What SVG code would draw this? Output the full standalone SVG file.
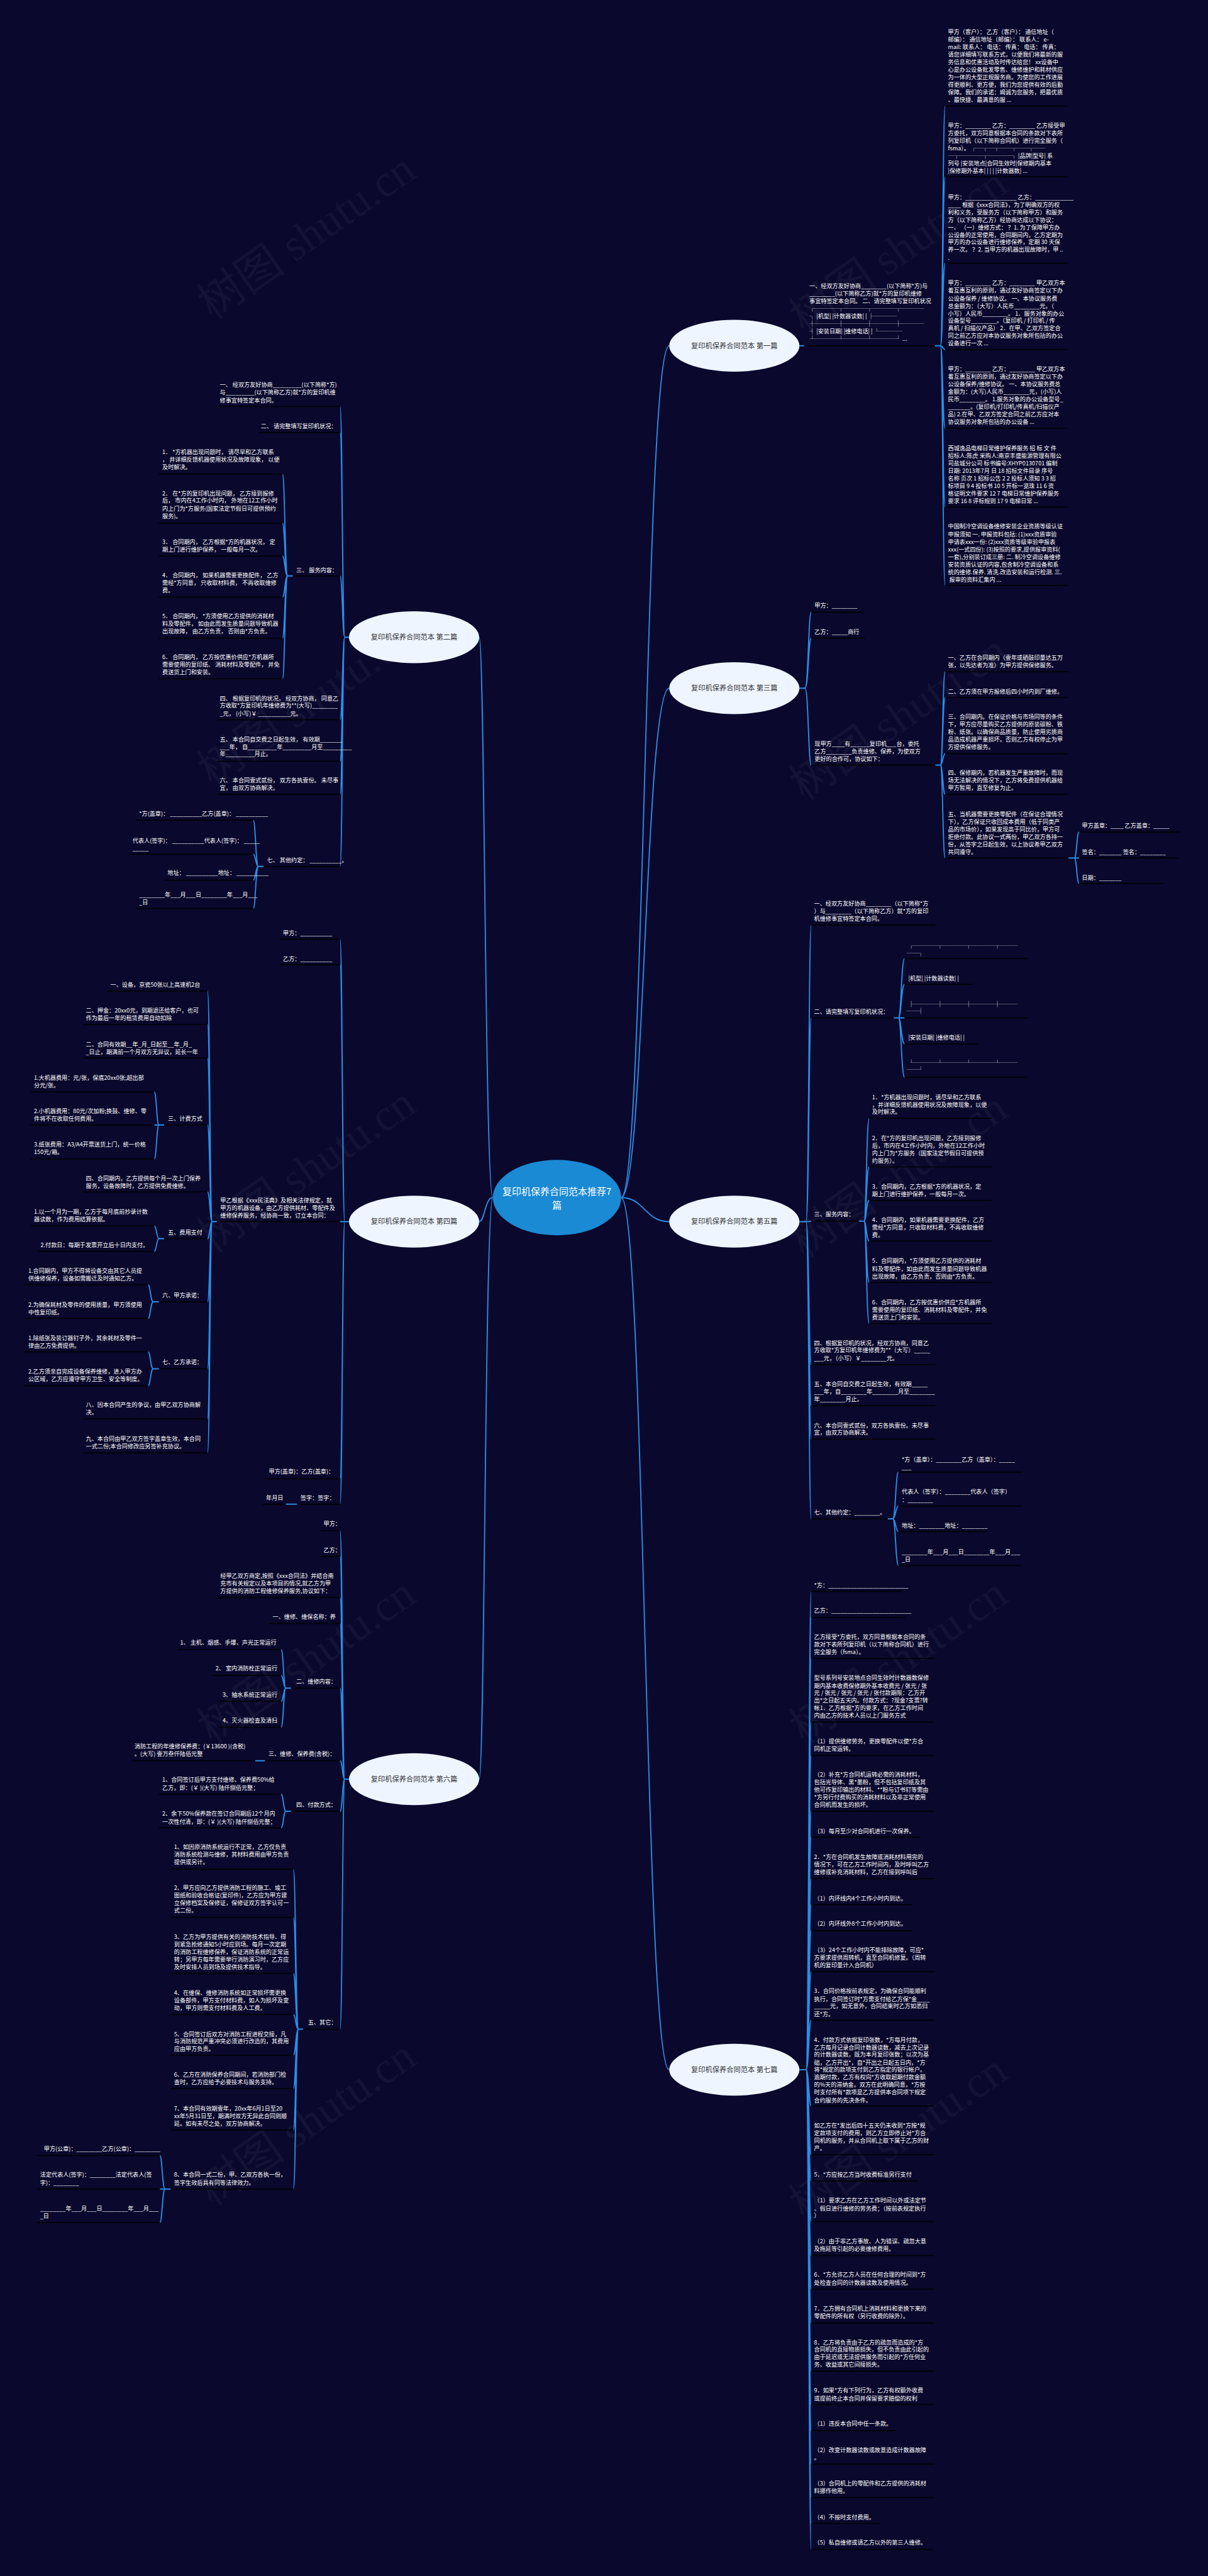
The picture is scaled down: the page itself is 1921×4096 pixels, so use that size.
<svg xmlns="http://www.w3.org/2000/svg" width="1921" height="4096" viewBox="0 0 1921 4096">
<style>
.t{font-family:"Noto Sans CJK SC","Noto Sans",sans-serif;font-size:12.2px;fill:#fff}
.nd{font-family:"Noto Sans CJK SC","Noto Sans",sans-serif;font-size:15px;fill:#333;text-anchor:middle}
.ct{font-family:"Noto Sans CJK SC","Noto Sans",sans-serif;font-size:20px;fill:#fff;text-anchor:middle}
.u{stroke:#000;stroke-width:2}
.c{fill:none;stroke:#2a8ee6;stroke-width:2.5}
.b{fill:#eef5ff}
.wm{font-family:"Liberation Serif","Noto Sans CJK SC",serif;font-size:95px;fill:#fff;fill-opacity:0.045;text-anchor:middle}
</style>
<rect width="1921" height="4096" fill="#0a082c"/>
<g transform="scale(0.75)">
<g id="watermark">
<text class="wm" transform="translate(650 500) rotate(-35)" y="32">树图 shutu.cn</text>
<text class="wm" transform="translate(650 1490) rotate(-35)" y="32">树图 shutu.cn</text>
<text class="wm" transform="translate(650 2480) rotate(-35)" y="32">树图 shutu.cn</text>
<text class="wm" transform="translate(650 3520) rotate(-35)" y="32">树图 shutu.cn</text>
<text class="wm" transform="translate(650 4500) rotate(-35)" y="32">树图 shutu.cn</text>
<text class="wm" transform="translate(1905 530) rotate(-35)" y="32">树图 shutu.cn</text>
<text class="wm" transform="translate(1905 1520) rotate(-35)" y="32">树图 shutu.cn</text>
<text class="wm" transform="translate(1905 2490) rotate(-35)" y="32">树图 shutu.cn</text>
<text class="wm" transform="translate(1905 3520) rotate(-35)" y="32">树图 shutu.cn</text>
<text class="wm" transform="translate(1905 4530) rotate(-35)" y="32">树图 shutu.cn</text>
</g>
<g id="connectors">
<path class="c" d="M1317 2539C1367 2539 1367 733 1419 733M1317 2539C1367 2539 1367 1459 1419 1459M1317 2539C1367 2539 1367 2590 1419 2590M1317 2539C1367 2539 1367 4388 1419 4388"/>
<path class="c" d="M1045 2539C1028 2539 1028 1351 1016 1351M1045 2539C1028 2539 1028 2590 1016 2590M1045 2539C1028 2539 1028 3772 1016 3772"/>
<path class="c" d="M1695 733L1705 733M1982 733L1994 733M1994 733C1999 733 1999 225 2004 225M1994 733C1999 733 1999 375 2004 375M1994 733C1999 733 1999 558 2004 558M1994 733C1999 733 1999 741 2004 741M1994 733C1999 733 1999 908 2004 908M1994 733C1999 733 1999 1075 2004 1075M1994 733C1999 733 1999 1241 2004 1241"/>
<path class="c" d="M1695 1459L1707 1459M1707 1459C1714 1459 1714 1298 1720 1298M1707 1459C1714 1459 1714 1353 1720 1353M1707 1459C1714 1459 1714 1622 1720 1622M1983 1622L1994 1622M1994 1622C1999 1622 1999 1424 2004 1424M1994 1622C1999 1622 1999 1479 2004 1479M1994 1622C1999 1622 1999 1598 2004 1598M1994 1622C1999 1622 1999 1684 2004 1684M1994 1622C1999 1622 1999 1819 2004 1819M2265 1819L2278 1819M2278 1819C2283 1819 2283 1764 2288 1764M2278 1819L2288 1819M2278 1819C2283 1819 2283 1873 2288 1873"/>
<path class="c" d="M1695 2590L1709 2590M1709 2590C1715 2590 1715 1961 1720 1961M1709 2590C1715 2590 1715 2158 1720 2158M1709 2590C1715 2590 1715 2589 1720 2589M1709 2590C1715 2590 1715 2893 1720 2893M1709 2590C1715 2590 1715 2980 1720 2980M1709 2590C1715 2590 1715 3051 1720 3051M1709 2590C1715 2590 1715 3220 1720 3220"/>
<path class="c" d="M1895 2158L1905 2158M1905 2158C1911 2158 1911 2032 1918 2032M1905 2158C1911 2158 1911 2087 1918 2087M1905 2158L1918 2158M1905 2158C1911 2158 1911 2213 1918 2213M1905 2158C1911 2158 1911 2284 1918 2284"/>
<path class="c" d="M1821 2589L1832 2589M1832 2589C1837 2589 1837 2371 1843 2371M1832 2589C1837 2589 1837 2474 1843 2474M1832 2589C1837 2589 1837 2545 1843 2545M1832 2589C1837 2589 1837 2631 1843 2631M1832 2589C1837 2589 1837 2719 1843 2719M1832 2589C1837 2589 1837 2806 1843 2806"/>
<path class="c" d="M1882 3220L1893 3220M1893 3220C1899 3220 1899 3121 1905 3121M1893 3220C1899 3220 1899 3193 1905 3193M1893 3220C1899 3220 1899 3247 1905 3247M1893 3220C1899 3220 1899 3319 1905 3319"/>
<path class="c" d="M1695 4388L1709 4388M1709 4388C1715 4388 1715 3374 1720 3374M1709 4388C1715 4388 1715 3429 1720 3429M1709 4388C1715 4388 1715 3516 1720 3516M1709 4388C1715 4388 1715 3651 1720 3651M1709 4388C1715 4388 1715 3722 1720 3722M1709 4388C1715 4388 1715 3840 1720 3840M1709 4388C1715 4388 1715 3895 1720 3895M1709 4388C1715 4388 1715 3983 1720 3983M1709 4388C1715 4388 1715 4038 1720 4038M1709 4388C1715 4388 1715 4093 1720 4093M1709 4388C1715 4388 1715 4180 1720 4180M1709 4388C1715 4388 1715 4283 1720 4283M1709 4388C1715 4388 1715 4465 1720 4465M1709 4388C1715 4388 1715 4568 1720 4568M1709 4388C1715 4388 1715 4624 1720 4624M1709 4388C1715 4388 1715 4710 1720 4710M1709 4388C1715 4388 1715 4782 1720 4782M1709 4388C1715 4388 1715 4853 1720 4853M1709 4388C1715 4388 1715 4925 1720 4925M1709 4388C1715 4388 1715 5027 1720 5027M1709 4388C1715 4388 1715 5098 1720 5098M1709 4388C1715 4388 1715 5153 1720 5153M1709 4388C1715 4388 1715 5224 1720 5224M1709 4388C1715 4388 1715 5295 1720 5295M1709 4388C1715 4388 1715 5350 1720 5350M1709 4388C1715 4388 1715 5405 1720 5405"/>
<path class="c" d="M740 1351L731 1351M731 1351C726 1351 726 862 721 862M731 1351C726 1351 726 917 721 917M731 1351C726 1351 726 1221 721 1221M731 1351C726 1351 726 1526 721 1526M731 1351C726 1351 726 1614 721 1614M731 1351C726 1351 726 1684 721 1684M731 1351C726 1351 726 1837 721 1837"/>
<path class="c" d="M621 1221L610 1221M610 1221C604 1221 604 1005 599 1005M610 1221C604 1221 604 1109 599 1109M610 1221C604 1221 604 1179 599 1179M610 1221C604 1221 604 1266 599 1266M610 1221C604 1221 604 1353 599 1353M610 1221C604 1221 604 1439 599 1439M559 1837L548 1837M548 1837C542 1837 542 1739 537 1739M548 1837C542 1837 542 1811 537 1811M548 1837C542 1837 542 1866 537 1866M548 1837C542 1837 542 1926 537 1926"/>
<path class="c" d="M740 2590L731 2590M731 2590C726 2590 726 1991 721 1991M731 2590C726 2590 726 2045 721 2045M731 2590L721 2590M731 2590C726 2590 726 3135 721 3135M731 2590C726 2590 726 3189 721 3189"/>
<path class="c" d="M460 2590L450 2590M450 2590C445 2590 445 2101 440 2101M450 2590C445 2590 445 2172 440 2172M450 2590C445 2590 445 2243 440 2243M450 2590C445 2590 445 2385 440 2385M450 2590C445 2590 445 2527 440 2527M450 2590C445 2590 445 2626 440 2626M450 2590C445 2590 445 2760 440 2760M450 2590C445 2590 445 2902 440 2902M450 2590C445 2590 445 3008 440 3008M450 2590C445 2590 445 3080 440 3080"/>
<path class="c" d="M348 2385L337 2385M337 2385C332 2385 332 2315 327 2315M337 2385L327 2385M337 2385C332 2385 332 2457 327 2457M348 2626L337 2626M337 2626C332 2626 332 2599 327 2599M337 2626C332 2626 332 2653 327 2653M337 2760L325 2760M325 2760C319 2760 319 2724 314 2724M325 2760C319 2760 319 2795 314 2795M337 2902L325 2902M325 2902C319 2902 319 2866 314 2866M325 2902C319 2902 319 2938 314 2938"/>
<path class="c" d="M740 3772L731 3772M731 3772C726 3772 726 3245 721 3245M731 3772C726 3772 726 3300 721 3300M731 3772C726 3772 726 3387 721 3387M731 3772C726 3772 726 3442 721 3442M731 3772C726 3772 726 3579 721 3579M731 3772C726 3772 726 3733 721 3733M731 3772C726 3772 726 3840 721 3840M731 3772C726 3772 726 4302 721 4302"/>
<path class="c" d="M617 3579L606 3579M606 3579C601 3579 601 3497 596 3497M606 3579C601 3579 601 3552 596 3552M606 3579C601 3579 601 3607 596 3607M606 3579C601 3579 601 3662 596 3662M562 3733L541 3733M617 3840L606 3840M606 3840C601 3840 601 3804 596 3804M606 3840C601 3840 601 3875 596 3875"/>
<path class="c" d="M643 4302L633 4302M633 4302C627 4302 627 3963 622 3963M633 4302C627 4302 627 4065 622 4065M633 4302C627 4302 627 4184 622 4184M633 4302C627 4302 627 4271 622 4271M633 4302C627 4302 627 4357 622 4357M633 4302C627 4302 627 4428 622 4428M633 4302C627 4302 627 4516 622 4516M633 4302C627 4302 627 4641 622 4641M362 4641L350 4641M350 4641C344 4641 344 4570 339 4570M350 4641L339 4641M350 4641C344 4641 344 4712 339 4712"/>
</g>

<g id="center"><ellipse cx="1181" cy="2539" rx="136" ry="80" fill="#1a8ad4"/><text class="ct" x="1181" y="2533">复印机保养合同范本推荐7</text><text class="ct" x="1181" y="2563">篇</text></g>
<g id="b1"><ellipse class="b" cx="1557" cy="733" rx="138" ry="55"/><text class="nd" x="1557" y="738">复印机保养合同范本 第一篇</text></g>
<g id="b3"><ellipse class="b" cx="1557" cy="1459" rx="138" ry="55"/><text class="nd" x="1557" y="1464">复印机保养合同范本 第三篇</text></g>
<g id="b5"><ellipse class="b" cx="1557" cy="2590" rx="138" ry="55"/><text class="nd" x="1557" y="2595">复印机保养合同范本 第五篇</text></g>
<g id="b7"><ellipse class="b" cx="1557" cy="4388" rx="138" ry="55"/><text class="nd" x="1557" y="4393">复印机保养合同范本 第七篇</text></g>
<g id="b2"><ellipse class="b" cx="878" cy="1351" rx="138" ry="55"/><text class="nd" x="878" y="1356">复印机保养合同范本 第二篇</text></g>
<g id="b4"><ellipse class="b" cx="878" cy="2590" rx="138" ry="55"/><text class="nd" x="878" y="2595">复印机保养合同范本 第四篇</text></g>
<g id="b6"><ellipse class="b" cx="878" cy="3772" rx="138" ry="55"/><text class="nd" x="878" y="3777">复印机保养合同范本 第六篇</text></g>

<!-- 第一篇 -->
<g id="n1-0"><line class="u" x1="1705" y1="733" x2="1982" y2="733"/><text class="t"><tspan x="1716" y="610">一、经双方友好协商________(以下简称*方)与</tspan><tspan x="1716" y="626">________(以下简称乙方)就*方的复印机维修</tspan><tspan x="1716" y="642">事宜特签定本合同。 二、请完整填写复印机状况</tspan><tspan x="1716" y="658">┌────┬────┬────┬────</tspan><tspan x="1716" y="674">┐ |机型| |计数器读数| | ├────</tspan><tspan x="1716" y="690">┼────┼────┼────┼────</tspan><tspan x="1716" y="706">┤ |安装日期| |维修电话| | └────</tspan><tspan x="1716" y="722">┴────┴────┴────┘ ...</tspan></text></g>
<g id="n1-1"><line class="u" x1="2004" y1="225" x2="2265" y2="225"/><text class="t"><tspan x="2010" y="72">甲方（客户）： 乙方（客户）： 通信地址（</tspan><tspan x="2010" y="88">邮编）： 通信地址（邮编）： 联系人： e-</tspan><tspan x="2010" y="104">mail: 联系人： 电话： 传真： 电话： 传真：</tspan><tspan x="2010" y="120">请您详细填写联系方式，以便我们将最新的服</tspan><tspan x="2010" y="136">务信息和优惠活动及时传达给您！ xx设备中</tspan><tspan x="2010" y="152">心是办公设备批发零售、维修维护和耗材供应</tspan><tspan x="2010" y="168">为一体的大型正规服务商。为使您的工作进展</tspan><tspan x="2010" y="184">得更顺利、更方便，我们为您提供有效的后勤</tspan><tspan x="2010" y="200">保障。我们的承诺：竭诚为您服务，把最优质</tspan><tspan x="2010" y="216">、最快捷、最满意的服 ...</tspan></text></g>
<g id="n1-2"><line class="u" x1="2004" y1="375" x2="2265" y2="375"/><text class="t"><tspan x="2010" y="270">甲方：________ 乙方：________ 乙方接受甲</tspan><tspan x="2010" y="287">方委托，双方同意根据本合同的条款对下表所</tspan><tspan x="2010" y="303">列复印机（以下简称合同机）进行完全服务（</tspan><tspan x="2010" y="319">fsma）。 ┌─┬─┬──┬──┬──</tspan><tspan x="2010" y="335">─┬────┬────┐ |品牌|型号| 系</tspan><tspan x="2010" y="351">列号 |安装地点|合同生效时|保修期内基本</tspan><tspan x="2010" y="367">|保修期外基本| | | | |计数器数| ...</tspan></text></g>
<g id="n1-3"><line class="u" x1="2004" y1="558" x2="2265" y2="558"/><text class="t"><tspan x="2010" y="422">甲方：________________ 乙方：____________</tspan><tspan x="2010" y="438">____ 根据《xxx合同法》，为了明确双方的权</tspan><tspan x="2010" y="454">利和义务，受服务方（以下简称甲方）和服务</tspan><tspan x="2010" y="470">方（以下简称乙方）经协商达成以下协议：</tspan><tspan x="2010" y="486">一、 （一）维修方式： ？1. 为了保障甲方办</tspan><tspan x="2010" y="502">公设备的正常使用，合同期间内，乙方定期为</tspan><tspan x="2010" y="517">甲方的办公设备进行维修保养，定期 30 天保</tspan><tspan x="2010" y="533">养一次。 ？2. 当甲方的机器出现故障时，甲 ..</tspan><tspan x="2010" y="550">.</tspan></text></g>
<g id="n1-4"><line class="u" x1="2004" y1="741" x2="2265" y2="741"/><text class="t"><tspan x="2010" y="604">甲方：________ 乙方：________ 甲乙双方本</tspan><tspan x="2010" y="620">着互惠互利的原则，通过友好协商签定以下办</tspan><tspan x="2010" y="637">公设备保养 / 维修协议。 一、本协议服务费</tspan><tspan x="2010" y="653">总金额为：（大写）人民币________元，（</tspan><tspan x="2010" y="669">小写）人民币________。 1．服务对象的办公</tspan><tspan x="2010" y="684">设备型号________。（复印机 / 打印机 / 传</tspan><tspan x="2010" y="700">真机 / 扫描仪产品） 2．在甲、乙双方签定合</tspan><tspan x="2010" y="716">同之前乙方应对本协议服务对象所包括的办公</tspan><tspan x="2010" y="732">设备进行一次 ...</tspan></text></g>
<g id="n1-5"><line class="u" x1="2004" y1="908" x2="2265" y2="908"/><text class="t"><tspan x="2010" y="787">甲方：________ 乙方：________ 甲乙双方本</tspan><tspan x="2010" y="803">着互惠互利的原则，通过友好协商签定以下办</tspan><tspan x="2010" y="819">公设备保养/维修协议。 一、本协议服务费总</tspan><tspan x="2010" y="835">金额为：(大写)人民币________元，(小写)人</tspan><tspan x="2010" y="851">民币________。 1.服务对象的办公设备型号_</tspan><tspan x="2010" y="867">_______。(复印机/打印机/传真机/扫描仪产</tspan><tspan x="2010" y="883">品) 2.在甲、乙双方签定合同之前乙方应对本</tspan><tspan x="2010" y="899">协议服务对象所包括的办公设备 ...</tspan></text></g>
<g id="n1-6"><line class="u" x1="2004" y1="1075" x2="2265" y2="1075"/><text class="t"><tspan x="2010" y="954">西城逸品电梯日常维护保养服务 招 标 文 件</tspan><tspan x="2010" y="970">招标人:陈虎 采购人:南京丰盛能源管理有限公</tspan><tspan x="2010" y="986">司盐城分公司 标书编号:XHYP0130701 编制</tspan><tspan x="2010" y="1002">日期: 2013年7月 日 18 招标文件目录 序号</tspan><tspan x="2010" y="1018">名称 页次 1 招标公告 2 2 投标人须知 3 3 招</tspan><tspan x="2010" y="1034">标项目 9 4 投标书 10 5 开标一览珠 11 6 资</tspan><tspan x="2010" y="1050">格证明文件要求 12 7 电梯日常维护保养服务</tspan><tspan x="2010" y="1066">要求 16 8 评标规则 17 9 电梯日常 ...</tspan></text></g>
<g id="n1-7"><line class="u" x1="2004" y1="1241" x2="2265" y2="1241"/><text class="t"><tspan x="2010" y="1120">中国制冷空调设备维修安装企业资质等级认证</tspan><tspan x="2010" y="1137">申报须知 一. 申报资料包括: (1)xxx资质审验</tspan><tspan x="2010" y="1153">申请表xxx一份: (2)xxx资质等级审验申报表</tspan><tspan x="2010" y="1169">xxx(一式四份): (3)按照的要求,提供报审资料(</tspan><tspan x="2010" y="1185">一套),分别装订成三册: 二. 制冷空调设备维修</tspan><tspan x="2010" y="1201">安装资质认证的内容,包含制冷空调设备和系</tspan><tspan x="2010" y="1217">统的维修.保养. 清洗.改造安装和运行检测. 三.</tspan><tspan x="2010" y="1233"> 报审的资料汇集内 ...</tspan></text></g>

<!-- 第三篇 -->
<g id="n3-1"><line class="u" x1="1720" y1="1298" x2="1831" y2="1298"/><text class="t" x="1727" y="1288">甲方：________</text></g>
<g id="n3-2"><line class="u" x1="1720" y1="1353" x2="1834" y2="1353"/><text class="t" x="1727" y="1344">乙方：_____商行</text></g>
<g id="n3-3"><line class="u" x1="1720" y1="1622" x2="1983" y2="1622"/><text class="t"><tspan x="1727" y="1581">现甲方____有______复印机___台，委托</tspan><tspan x="1727" y="1597">乙方________负责维修、保养，为使双方</tspan><tspan x="1727" y="1613">更好的合作可，协议如下：</tspan></text></g>
<g id="n3-d1"><line class="u" x1="2004" y1="1424" x2="2265" y2="1424"/><text class="t"><tspan x="2010" y="1398">一、乙方在合同期内（壹年或硒鼓印量达五万</tspan><tspan x="2010" y="1414">张，以先达者为准）为甲方提供保修服务。</tspan></text></g>
<g id="n3-d2"><line class="u" x1="2004" y1="1479" x2="2265" y2="1479"/><text class="t" x="2010" y="1470">二、乙方须在甲方报修后四小时内到厂维修。</text></g>
<g id="n3-d3"><line class="u" x1="2004" y1="1598" x2="2265" y2="1598"/><text class="t"><tspan x="2010" y="1524">三、合同期内。在保证价格与市场同等的条件</tspan><tspan x="2010" y="1540">下，甲方应尽量购买乙方提供的原装碳粉、铁</tspan><tspan x="2010" y="1556">粉、纸张。以确保商品质量，防止使用劣质商</tspan><tspan x="2010" y="1572">品造成机器严重损坏。否则乙方有权停止为甲</tspan><tspan x="2010" y="1588">方提供保修服务。</tspan></text></g>
<g id="n3-d4"><line class="u" x1="2004" y1="1684" x2="2265" y2="1684"/><text class="t"><tspan x="2010" y="1643">四、保修期内，若机器发生严重故障时，而现</tspan><tspan x="2010" y="1659">场无法解决的情况下，乙方将免费提供机器给</tspan><tspan x="2010" y="1675">甲方暂用，直至修复为止。</tspan></text></g>
<g id="n3-d5"><line class="u" x1="2004" y1="1819" x2="2265" y2="1819"/><text class="t"><tspan x="2010" y="1731">五、当机器需要更换零配件（在保证合理情况</tspan><tspan x="2010" y="1747">下），乙方保证只收回成本费用（低于同类产</tspan><tspan x="2010" y="1763">品的市场价），如果发现高于同比价，甲方可</tspan><tspan x="2010" y="1779">拒绝付款。此协议一式两份，甲乙双方各持一</tspan><tspan x="2010" y="1794">份，从签字之日起生效，以上协议希甲乙双方</tspan><tspan x="2010" y="1810">共同遵守。</tspan></text></g>
<g id="n3-e1"><line class="u" x1="2288" y1="1764" x2="2502" y2="1764"/><text class="t" x="2294" y="1755">甲方盖章：____ 乙方盖章：_____</text></g>
<g id="n3-e2"><line class="u" x1="2288" y1="1819" x2="2500" y2="1819"/><text class="t" x="2294" y="1810">签名：_______ 签名：________</text></g>
<g id="n3-e3"><line class="u" x1="2288" y1="1873" x2="2467" y2="1873"/><text class="t" x="2294" y="1865">日期：_______</text></g>

<!-- 第五篇 -->
<g id="n5-1"><line class="u" x1="1720" y1="1961" x2="1983" y2="1961"/><text class="t"><tspan x="1726" y="1920">一、经双方友好协商________（以下简称*方</tspan><tspan x="1726" y="1936">）与________（以下简称乙方）就*方的复印</tspan><tspan x="1726" y="1952">机维修事宜特签定本合同。</tspan></text></g>
<g id="n5-2"><line class="u" x1="1720" y1="2158" x2="1895" y2="2158"/><text class="t" x="1726" y="2149">二、请完整填写复印机状况：</text></g>
<g id="n5-g1"><line class="u" x1="1918" y1="2032" x2="2179" y2="2032"/><text class="t"><tspan x="1926" y="2009">┌────┬────┬────┬───</tspan><tspan x="1922" y="2025">──┐</tspan></text></g>
<g id="n5-g2"><line class="u" x1="1918" y1="2087" x2="2061" y2="2087"/><text class="t" x="1926" y="2078">|机型| |计数器读数| |</text></g>
<g id="n5-g3"><line class="u" x1="1918" y1="2158" x2="2179" y2="2158"/><text class="t"><tspan x="1926" y="2133">├────┼────┼────┼───</tspan><tspan x="1922" y="2148">──┤</tspan></text></g>
<g id="n5-g4"><line class="u" x1="1918" y1="2213" x2="2074" y2="2213"/><text class="t" x="1926" y="2204">|安装日期| |维修电话| |</text></g>
<g id="n5-g5"><line class="u" x1="1918" y1="2284" x2="2179" y2="2284"/><text class="t"><tspan x="1926" y="2257">└────┴────┴────┴───</tspan><tspan x="1922" y="2272">──┘</tspan></text></g>
<g id="n5-3"><line class="u" x1="1720" y1="2589" x2="1821" y2="2589"/><text class="t" x="1726" y="2579">三、服务内容：</text></g>
<g id="n5-h1"><line class="u" x1="1843" y1="2371" x2="2103" y2="2371"/><text class="t"><tspan x="1849" y="2330">1．*方机器出现问题时，请尽早和乙方联系</tspan><tspan x="1849" y="2346">，并详细反馈机器使用状况及故障现象，以便</tspan><tspan x="1849" y="2361">及时解决。</tspan></text></g>
<g id="n5-h2"><line class="u" x1="1843" y1="2474" x2="2103" y2="2474"/><text class="t"><tspan x="1849" y="2417">2．在*方的复印机出现问题，乙方接到报修</tspan><tspan x="1849" y="2433">后，市内在4工作小时内，外地在12工作小时</tspan><tspan x="1849" y="2449">内上门为*方服务（国家法定节假日可提供预</tspan><tspan x="1849" y="2465">约服务）。</tspan></text></g>
<g id="n5-h3"><line class="u" x1="1843" y1="2545" x2="2103" y2="2545"/><text class="t"><tspan x="1849" y="2520">3．合同期内，乙方根据*方的机器状况，定</tspan><tspan x="1849" y="2536">期上门进行维护保养，一般每月一次。</tspan></text></g>
<g id="n5-h4"><line class="u" x1="1843" y1="2631" x2="2103" y2="2631"/><text class="t"><tspan x="1849" y="2591">4．合同期内，如果机器需要更换配件，乙方</tspan><tspan x="1849" y="2607">需经*方同意，只收取材料费，不再收取维修</tspan><tspan x="1849" y="2623">费。</tspan></text></g>
<g id="n5-h5"><line class="u" x1="1843" y1="2719" x2="2103" y2="2719"/><text class="t"><tspan x="1849" y="2677">5．合同期内，*方须使用乙方提供的消耗材</tspan><tspan x="1849" y="2694">料及零配件，如由此而发生质量问题导致机器</tspan><tspan x="1849" y="2710">出现故障，由乙方负责，否则由*方负责。</tspan></text></g>
<g id="n5-h6"><line class="u" x1="1843" y1="2806" x2="2103" y2="2806"/><text class="t"><tspan x="1849" y="2765">6．合同期内，乙方按优惠价供应*方机器所</tspan><tspan x="1849" y="2781">需要使用的复印纸、消耗材料及零配件，并免</tspan><tspan x="1849" y="2797">费送货上门和安装。</tspan></text></g>
<g id="n5-4"><line class="u" x1="1720" y1="2893" x2="1983" y2="2893"/><text class="t"><tspan x="1726" y="2852">四、根据复印机的状况，经双方协商，同意乙</tspan><tspan x="1726" y="2867">方收取*方复印机年维修费为**（大写）_____</tspan><tspan x="1726" y="2884">___元，（小写）￥________元。</tspan></text></g>
<g id="n5-5"><line class="u" x1="1720" y1="2980" x2="1983" y2="2980"/><text class="t"><tspan x="1726" y="2939">五、本合同自交费之日起生效，有效期_____</tspan><tspan x="1726" y="2954">___年，自________年________月至________</tspan><tspan x="1726" y="2971">年________月止。</tspan></text></g>
<g id="n5-6"><line class="u" x1="1720" y1="3051" x2="1983" y2="3051"/><text class="t"><tspan x="1726" y="3026">六、本合同壹式贰份，双方各执壹份。未尽事</tspan><tspan x="1726" y="3041">宜，由双方协商解决。</tspan></text></g>
<g id="n5-7"><line class="u" x1="1720" y1="3220" x2="1882" y2="3220"/><text class="t" x="1726" y="3211">七、其他约定：________。</text></g>
<g id="n5-i1"><line class="u" x1="1905" y1="3121" x2="2166" y2="3121"/><text class="t"><tspan x="1912" y="3099">*方（盖章）：________乙方（盖章）：_____</tspan><tspan x="1912" y="3115">___</tspan></text></g>
<g id="n5-i2"><line class="u" x1="1905" y1="3193" x2="2166" y2="3193"/><text class="t"><tspan x="1912" y="3167">代表人（签字）：________代表人（签字）</tspan><tspan x="1912" y="3184">：________</tspan></text></g>
<g id="n5-i3"><line class="u" x1="1905" y1="3247" x2="2092" y2="3247"/><text class="t" x="1912" y="3239">地址：________地址：________</text></g>
<g id="n5-i4"><line class="u" x1="1905" y1="3319" x2="2166" y2="3319"/><text class="t"><tspan x="1912" y="3294">________年___月___日________年___月___</tspan><tspan x="1912" y="3310">_日</tspan></text></g>

<!-- 第七篇 -->
<g id="n7-1"><line class="u" x1="1720" y1="3374" x2="1914" y2="3374"/><text class="t" x="1726" y="3365">*方：_________________________</text></g>
<g id="n7-2"><line class="u" x1="1720" y1="3429" x2="1920" y2="3429"/><text class="t" x="1726" y="3419">乙方：_________________________</text></g>
<g id="n7-3"><line class="u" x1="1720" y1="3516" x2="1981" y2="3516"/><text class="t"><tspan x="1726" y="3474">乙方接受*方委托，双方同意根据本合同的条</tspan><tspan x="1726" y="3490">款对下表所列复印机（以下简称合同机）进行</tspan><tspan x="1726" y="3506">完全服务（fsma）。</tspan></text></g>
<g id="n7-4"><line class="u" x1="1720" y1="3651" x2="1981" y2="3651"/><text class="t"><tspan x="1726" y="3561">型号系列号安装地点合同生效时计数器数保修</tspan><tspan x="1726" y="3578">期内基本收费保修期外基本收费元 / 张元 / 张</tspan><tspan x="1726" y="3593">元 / 张元 / 张元 / 张元 / 张付款期限：乙方开</tspan><tspan x="1726" y="3609">出*之日起五天内。付款方式：?现金?支票?转</tspan><tspan x="1726" y="3625">帐1．乙方根据*方的要求，在乙方工作时间</tspan><tspan x="1726" y="3641">内由乙方的技术人员以上门服务方式</tspan></text></g>
<g id="n7-5"><line class="u" x1="1720" y1="3722" x2="1981" y2="3722"/><text class="t"><tspan x="1726" y="3696"> （1）提供维修劳务，更换零配件以使*方合</tspan><tspan x="1726" y="3712">同机正常运转。</tspan></text></g>
<g id="n7-6"><line class="u" x1="1720" y1="3840" x2="1981" y2="3840"/><text class="t"><tspan x="1726" y="3767"> （2）补充*方合同机运转必需的消耗材料，</tspan><tspan x="1726" y="3783">包括光导体、黑*墨粉，但不包括复印纸及其</tspan><tspan x="1726" y="3799">他可作复印输出的材料、**粉与订书钉等需由</tspan><tspan x="1726" y="3815">*方另行付费购买的消耗材料以及非正常使用</tspan><tspan x="1726" y="3831">合同机而发生的损坏。</tspan></text></g>
<g id="n7-7"><line class="u" x1="1720" y1="3895" x2="1951" y2="3895"/><text class="t" x="1726" y="3887"> （3）每月至少对合同机进行一次保养。</text></g>
<g id="n7-8"><line class="u" x1="1720" y1="3983" x2="1981" y2="3983"/><text class="t"><tspan x="1726" y="3941">2．*方在合同机发生故障或消耗材料用完的</tspan><tspan x="1726" y="3957">情况下，可在乙方工作时间内，及时呼叫乙方</tspan><tspan x="1726" y="3973">维修或补充消耗材料，乙方在接到呼叫后</tspan></text></g>
<g id="n7-9"><line class="u" x1="1720" y1="4038" x2="1935" y2="4038"/><text class="t" x="1726" y="4029"> （1）内环线内4个工作小时内到达。</text></g>
<g id="n7-10"><line class="u" x1="1720" y1="4093" x2="1935" y2="4093"/><text class="t" x="1726" y="4083"> （2）内环线外8个工作小时内到达。</text></g>
<g id="n7-11"><line class="u" x1="1720" y1="4180" x2="1981" y2="4180"/><text class="t"><tspan x="1726" y="4138"> （3）24个工作小时内不能排除故障，可应*</tspan><tspan x="1726" y="4154">方要求提供周转机，直至合同机修复。（周转</tspan><tspan x="1726" y="4170">机的复印量计入合同机）</tspan></text></g>
<g id="n7-12"><line class="u" x1="1720" y1="4283" x2="1981" y2="4283"/><text class="t"><tspan x="1726" y="4225">3．合同价格按前表规定，为确保合同能顺利</tspan><tspan x="1726" y="4242">执行，合同签订时*方需支付给乙方保*金____</tspan><tspan x="1726" y="4257">_____元，如无意外，合同结束时乙方如悉归</tspan><tspan x="1726" y="4274">还*方。</tspan></text></g>
<g id="n7-13"><line class="u" x1="1720" y1="4465" x2="1981" y2="4465"/><text class="t"><tspan x="1726" y="4329">4．付款方式依据复印张数，*方每月付款，</tspan><tspan x="1726" y="4345">乙方每月记录合同计数器读数，减去上次记录</tspan><tspan x="1726" y="4360">的计数器读数，既为本月复印张数；以次为基</tspan><tspan x="1726" y="4377">础，乙方开出*，自*开出之日起五日内，*方</tspan><tspan x="1726" y="4392">将*规定的款项支付到乙方指定的银行帐户。</tspan><tspan x="1726" y="4408">逾期付款，乙方有权向*方收取超期付款金额</tspan><tspan x="1726" y="4424">的%天的滞纳金。双方在此明确同意，*方按</tspan><tspan x="1726" y="4440">时支付所有*款项是乙方提供本合同项下规定</tspan><tspan x="1726" y="4457">合约服务的先决条件。</tspan></text></g>
<g id="n7-14"><line class="u" x1="1720" y1="4568" x2="1981" y2="4568"/><text class="t"><tspan x="1726" y="4511">如乙方在*发出后四十五天仍未收到*方按*规</tspan><tspan x="1726" y="4527">定款项支付的费用，则乙方立即停止对*方合</tspan><tspan x="1726" y="4543">同机的服务，并从合同机上取下属于乙方的财</tspan><tspan x="1726" y="4559">产。</tspan></text></g>
<g id="n7-15"><line class="u" x1="1720" y1="4624" x2="1945" y2="4624"/><text class="t" x="1726" y="4614">5．*方应按乙方当时收费标准另行支付</text></g>
<g id="n7-16"><line class="u" x1="1720" y1="4710" x2="1981" y2="4710"/><text class="t"><tspan x="1726" y="4669"> （1）要求乙方在乙方工作时间以外或法定节</tspan><tspan x="1726" y="4686">、假日进行维修的劳务费；（按前表规定执行</tspan><tspan x="1726" y="4701">）</tspan></text></g>
<g id="n7-17"><line class="u" x1="1720" y1="4782" x2="1981" y2="4782"/><text class="t"><tspan x="1726" y="4756"> （2）由于非乙方事故、人为错误、疏忽大意</tspan><tspan x="1726" y="4772">及拖延等引起的必要维修费用。</tspan></text></g>
<g id="n7-18"><line class="u" x1="1720" y1="4853" x2="1981" y2="4853"/><text class="t"><tspan x="1726" y="4827">6．*方允许乙方人员在任何合理的时间到*方</tspan><tspan x="1726" y="4844">处检查合同的计数器读数及使用情况。</tspan></text></g>
<g id="n7-19"><line class="u" x1="1720" y1="4925" x2="1981" y2="4925"/><text class="t"><tspan x="1726" y="4898">7．乙方拥有合同机上消耗材料和更换下来的</tspan><tspan x="1726" y="4915">零配件的所有权（另行收费的除外）。</tspan></text></g>
<g id="n7-20"><line class="u" x1="1720" y1="5027" x2="1981" y2="5027"/><text class="t"><tspan x="1726" y="4970">8．乙方将负责由于乙方的疏忽而造成的*方</tspan><tspan x="1726" y="4985">合同机的直接物质损失，但不负责由此引起的</tspan><tspan x="1726" y="5001">由于延迟或无法提供服务而引起的*方任何业</tspan><tspan x="1726" y="5017">务、收益或其它间接损失。</tspan></text></g>
<g id="n7-21"><line class="u" x1="1720" y1="5098" x2="1981" y2="5098"/><text class="t"><tspan x="1726" y="5072">9．如果*方有下列行为，乙方有权额外收费</tspan><tspan x="1726" y="5089">或提前终止本合同并保留要求赔偿的权利</tspan></text></g>
<g id="n7-22"><line class="u" x1="1720" y1="5153" x2="1901" y2="5153"/><text class="t" x="1726" y="5143"> （1）违反本合同中任一条款。</text></g>
<g id="n7-23"><line class="u" x1="1720" y1="5224" x2="1981" y2="5224"/><text class="t"><tspan x="1726" y="5198"> （2）改变计数器读数或故意造成计数器故障</tspan><tspan x="1726" y="5215">。</tspan></text></g>
<g id="n7-24"><line class="u" x1="1720" y1="5295" x2="1981" y2="5295"/><text class="t"><tspan x="1726" y="5269"> （3）合同机上的零配件和乙方提供的消耗材</tspan><tspan x="1726" y="5285">料挪作他用。</tspan></text></g>
<g id="n7-25"><line class="u" x1="1720" y1="5350" x2="1865" y2="5350"/><text class="t" x="1726" y="5341"> （4）不按时支付费用。</text></g>
<g id="n7-26"><line class="u" x1="1720" y1="5405" x2="1978" y2="5405"/><text class="t" x="1726" y="5395"> （5）私自维修或请乙方以外的第三人维修。</text></g>

<!-- 第二篇 -->
<g id="n2-1"><line class="u" x1="461" y1="862" x2="721" y2="862"/><text class="t"><tspan x="466" y="820">一、 经双方友好协商_________(以下简称*方)</tspan><tspan x="466" y="836">与_________(以下简称乙方)就*方的复印机维</tspan><tspan x="466" y="853">修事宜特签定本合同。</tspan></text></g>
<g id="n2-2"><line class="u" x1="548" y1="917" x2="721" y2="917"/><text class="t" x="553" y="908">二、 请完整填写复印机状况：</text></g>
<g id="n2-3"><line class="u" x1="621" y1="1221" x2="721" y2="1221"/><text class="t" x="628" y="1213">三、 服务内容：</text></g>
<g id="n2-l1"><line class="u" x1="337" y1="1005" x2="599" y2="1005"/><text class="t"><tspan x="344" y="963">1． *方机器出现问题时， 请尽早和乙方联系</tspan><tspan x="344" y="978">， 并详细反馈机器使用状况及故障现象， 以便</tspan><tspan x="344" y="995">及时解决。</tspan></text></g>
<g id="n2-l2"><line class="u" x1="337" y1="1109" x2="599" y2="1109"/><text class="t"><tspan x="344" y="1050">2． 在*方的复印机出现问题， 乙方接到报修</tspan><tspan x="344" y="1065">后， 市内在4工作小时内， 外地在12工作小时</tspan><tspan x="344" y="1082">内上门为*方服务(国家法定节假日可提供预约</tspan><tspan x="344" y="1098">服务)。</tspan></text></g>
<g id="n2-l3"><line class="u" x1="337" y1="1179" x2="599" y2="1179"/><text class="t"><tspan x="344" y="1153">3． 合同期内， 乙方根据*方的机器状况， 定</tspan><tspan x="344" y="1169">期上门进行维护保养， 一般每月一次。</tspan></text></g>
<g id="n2-l4"><line class="u" x1="337" y1="1266" x2="599" y2="1266"/><text class="t"><tspan x="344" y="1224">4． 合同期内， 如果机器需要更换配件， 乙方</tspan><tspan x="344" y="1240">需经*方同意， 只收取材料费， 不再收取维修</tspan><tspan x="344" y="1256">费。</tspan></text></g>
<g id="n2-l5"><line class="u" x1="337" y1="1353" x2="599" y2="1353"/><text class="t"><tspan x="344" y="1311">5． 合同期内， *方须使用乙方提供的消耗材</tspan><tspan x="344" y="1327">料及零配件， 如由此而发生质量问题导致机器</tspan><tspan x="344" y="1343">出现故障， 由乙方负责， 否则由*方负责。</tspan></text></g>
<g id="n2-l6"><line class="u" x1="337" y1="1439" x2="599" y2="1439"/><text class="t"><tspan x="344" y="1397">6． 合同期内， 乙方按优惠价供应*方机器所</tspan><tspan x="344" y="1413">需要使用的复印纸、 消耗材料及零配件， 并免</tspan><tspan x="344" y="1429">费送货上门和安装。</tspan></text></g>
<g id="n2-4"><line class="u" x1="461" y1="1526" x2="721" y2="1526"/><text class="t"><tspan x="466" y="1485">四、 根据复印机的状况， 经双方协商， 同意乙</tspan><tspan x="466" y="1500">方收取*方复印机年维修费为**(大写)________</tspan><tspan x="466" y="1517">_元， (小写)￥ __________元。</tspan></text></g>
<g id="n2-5"><line class="u" x1="461" y1="1614" x2="721" y2="1614"/><text class="t"><tspan x="466" y="1572">五、 本合同自交费之日起生效， 有效期_______</tspan><tspan x="466" y="1588">___年， 自_________年_________月至_________</tspan><tspan x="466" y="1603">年_________月止。</tspan></text></g>
<g id="n2-6"><line class="u" x1="461" y1="1684" x2="721" y2="1684"/><text class="t"><tspan x="466" y="1659">六、 本合同壹式贰份， 双方各执壹份。 未尽事</tspan><tspan x="466" y="1675">宜， 由双方协商解决。</tspan></text></g>
<g id="n2-7"><line class="u" x1="559" y1="1837" x2="721" y2="1837"/><text class="t" x="566" y="1828">七、 其他约定： __________。</text></g>
<g id="n2-m1"><line class="u" x1="288" y1="1739" x2="537" y2="1739"/><text class="t" x="295" y="1729">*方(盖章)： __________乙方(盖章)： __________</text></g>
<g id="n2-m2"><line class="u" x1="274" y1="1811" x2="537" y2="1811"/><text class="t"><tspan x="281" y="1786">代表人(签字)： __________代表人(签字)： _____</tspan><tspan x="281" y="1802">_____</tspan></text></g>
<g id="n2-m3"><line class="u" x1="348" y1="1866" x2="537" y2="1866"/><text class="t" x="355" y="1855">地址： __________地址： __________</text></g>
<g id="n2-m4"><line class="u" x1="288" y1="1926" x2="537" y2="1926"/><text class="t"><tspan x="295" y="1901">________年___月___日________年___月___</tspan><tspan x="295" y="1917">_日</tspan></text></g>

<!-- 第四篇 -->
<g id="n4-1"><line class="u" x1="594" y1="1991" x2="721" y2="1991"/><text class="t" x="600" y="1982">甲方：__________</text></g>
<g id="n4-2"><line class="u" x1="594" y1="2045" x2="721" y2="2045"/><text class="t" x="600" y="2037">乙方：__________</text></g>
<g id="n4-3"><line class="u" x1="460" y1="2590" x2="721" y2="2590"/><text class="t"><tspan x="467" y="2549">甲乙根据《xxx民法典》及相关法律规定，就</tspan><tspan x="467" y="2565">甲方的机器设备，由乙方提供耗材、零配件及</tspan><tspan x="467" y="2581">维修保养服务，经协商一致，订立本合同：</tspan></text></g>
<g id="n4-o1"><line class="u" x1="229" y1="2101" x2="440" y2="2101"/><text class="t" x="234" y="2092">一、设备，京瓷50张以上高速机2台</text></g>
<g id="n4-o2"><line class="u" x1="176" y1="2172" x2="440" y2="2172"/><text class="t"><tspan x="182" y="2147">二、押金：20xx0元，到期退还给客户，也可</tspan><tspan x="182" y="2163">作为最后一年的租赁费用自动扣除</tspan></text></g>
<g id="n4-o3"><line class="u" x1="176" y1="2243" x2="440" y2="2243"/><text class="t"><tspan x="182" y="2218">二、合同有效期__年_月_日起至__年_月_</tspan><tspan x="182" y="2234">_日止，期满前一个月双方无异议，延长一年</tspan></text></g>
<g id="n4-o4"><line class="u" x1="348" y1="2385" x2="440" y2="2385"/><text class="t" x="356" y="2376">三、计费方式</text></g>
<g id="n4-p1"><line class="u" x1="65" y1="2315" x2="327" y2="2315"/><text class="t"><tspan x="72" y="2289">1.大机器费用：元/张，保底20xx0张;超出部</tspan><tspan x="72" y="2305">分元/张。</tspan></text></g>
<g id="n4-p2"><line class="u" x1="65" y1="2385" x2="327" y2="2385"/><text class="t"><tspan x="72" y="2360">2.小机器费用：80元/次加粉;换鼓、维修、零</tspan><tspan x="72" y="2376">件将不在收取任何费用。</tspan></text></g>
<g id="n4-p3"><line class="u" x1="65" y1="2457" x2="327" y2="2457"/><text class="t"><tspan x="72" y="2431">3.纸张费用：A3/A4开票送货上门，统一价格</tspan><tspan x="72" y="2447">150元/箱。</tspan></text></g>
<g id="n4-o5"><line class="u" x1="176" y1="2527" x2="440" y2="2527"/><text class="t"><tspan x="182" y="2502">四、合同期内，乙方提供每个月一次上门保养</tspan><tspan x="182" y="2519">服务，设备故障时，乙方提供免费维修。</tspan></text></g>
<g id="n4-o6"><line class="u" x1="348" y1="2626" x2="440" y2="2626"/><text class="t" x="356" y="2617">五、费用支付</text></g>
<g id="n4-q1"><line class="u" x1="65" y1="2599" x2="327" y2="2599"/><text class="t"><tspan x="72" y="2573">1.以一个月为一期，乙方于每月底前抄录计数</tspan><tspan x="72" y="2589">器读数，作为费用结算依据。</tspan></text></g>
<g id="n4-q2"><line class="u" x1="80" y1="2653" x2="327" y2="2653"/><text class="t" x="86" y="2644">2.付款日：每期于发票开立后十日内支付。</text></g>
<g id="n4-o7"><line class="u" x1="337" y1="2760" x2="440" y2="2760"/><text class="t" x="344" y="2750">六、甲方承诺：</text></g>
<g id="n4-r1"><line class="u" x1="52" y1="2724" x2="314" y2="2724"/><text class="t"><tspan x="60" y="2699">1.合同期内，甲方不得将设备交由其它人员提</tspan><tspan x="60" y="2715">供维修保养，设备如需搬迁及时通知乙方。</tspan></text></g>
<g id="n4-r2"><line class="u" x1="52" y1="2795" x2="314" y2="2795"/><text class="t"><tspan x="60" y="2770">2.为确保耗材及零件的使用质量，甲方须使用</tspan><tspan x="60" y="2786">中性复印纸。</tspan></text></g>
<g id="n4-o8"><line class="u" x1="337" y1="2902" x2="440" y2="2902"/><text class="t" x="344" y="2892">七、乙方承诺：</text></g>
<g id="n4-s1"><line class="u" x1="52" y1="2866" x2="314" y2="2866"/><text class="t"><tspan x="60" y="2841">1.除纸张及装订器钉子外，其余耗材及零件一</tspan><tspan x="60" y="2857">律由乙方免费提供。</tspan></text></g>
<g id="n4-s2"><line class="u" x1="52" y1="2938" x2="314" y2="2938"/><text class="t"><tspan x="60" y="2912">2.乙方须亲自完成设备保养维修，进入甲方办</tspan><tspan x="60" y="2928">公区域，乙方应遵守甲方卫生、安全等制度。</tspan></text></g>
<g id="n4-o9"><line class="u" x1="176" y1="3008" x2="440" y2="3008"/><text class="t"><tspan x="182" y="2983">八、因本合同产生的争议，由甲乙双方协商解</tspan><tspan x="182" y="2999">决。</tspan></text></g>
<g id="n4-o10"><line class="u" x1="176" y1="3080" x2="440" y2="3080"/><text class="t"><tspan x="182" y="3054">九、本合同由甲乙双方签字盖章生效，本合同</tspan><tspan x="182" y="3070">一式二份;本合同修改应另签补充协议。</tspan></text></g>
<g id="n4-4"><line class="u" x1="564" y1="3135" x2="721" y2="3135"/><text class="t" x="570" y="3124">甲方(盖章)：乙方(盖章)：</text></g>
<g id="n4-5"><line class="u" x1="557" y1="3189" x2="721" y2="3189"/><line class="c" x1="606" y1="3189" x2="630" y2="3189"/><text class="t" x="564" y="3180">年月日</text><text class="t" x="637" y="3180">签字：签字：</text></g>

<!-- 第六篇 -->
<g id="n6-1"><line class="u" x1="680" y1="3245" x2="721" y2="3245"/><text class="t" x="686" y="3235">甲方：</text></g>
<g id="n6-2"><line class="u" x1="680" y1="3300" x2="721" y2="3300"/><text class="t" x="686" y="3290">乙方：</text></g>
<g id="n6-3"><line class="u" x1="460" y1="3387" x2="721" y2="3387"/><text class="t"><tspan x="467" y="3345">经甲乙双方商定,按照《xxx合同法》并结合南</tspan><tspan x="467" y="3361">充市有关规定以及本项目的情况,就乙方为甲</tspan><tspan x="467" y="3377">方提供的消防工程维修保养服务,协议如下：</tspan></text></g>
<g id="n6-4"><line class="u" x1="571" y1="3442" x2="721" y2="3442"/><text class="t" x="578" y="3432">一、维修、维保名称：养</text></g>
<g id="n6-5"><line class="u" x1="617" y1="3579" x2="721" y2="3579"/><text class="t" x="628" y="3569">二、维修内容：</text></g>
<g id="n6-v1"><line class="u" x1="377" y1="3497" x2="596" y2="3497"/><text class="t" x="382" y="3486">1、 主机、烟感、手爆、声光正常运行</text></g>
<g id="n6-v2"><line class="u" x1="451" y1="3552" x2="596" y2="3552"/><text class="t" x="457" y="3541">2、 室内消防栓正常运行</text></g>
<g id="n6-v3"><line class="u" x1="466" y1="3607" x2="596" y2="3607"/><text class="t" x="472" y="3597">3、抽水系统正常运行</text></g>
<g id="n6-v4"><line class="u" x1="466" y1="3662" x2="596" y2="3662"/><text class="t" x="472" y="3652">4、灭火器检查及清扫</text></g>
<g id="n6-6"><line class="u" x1="562" y1="3733" x2="721" y2="3733"/><text class="t" x="569" y="3723">三、维修、保养费(含税)：</text></g>
<g id="n6-w1"><line class="u" x1="280" y1="3733" x2="541" y2="3733"/><text class="t"><tspan x="285" y="3707">消防工程的年维修保养费：(￥13600 )(含税)</tspan><tspan x="285" y="3723">。(大写) 壹万叁仟陆佰元整</tspan></text></g>
<g id="n6-7"><line class="u" x1="617" y1="3840" x2="721" y2="3840"/><text class="t" x="628" y="3830">四、付款方式：</text></g>
<g id="n6-x1"><line class="u" x1="337" y1="3804" x2="596" y2="3804"/><text class="t"><tspan x="344" y="3777">1、合同签订后甲方支付维修、保养费50%给</tspan><tspan x="344" y="3794">乙方，即：(￥ )(大写) 陆仟捌佰元整；</tspan></text></g>
<g id="n6-x2"><line class="u" x1="337" y1="3875" x2="596" y2="3875"/><text class="t"><tspan x="344" y="3849">2、余下50%保养款在签订合同期后12个月内</tspan><tspan x="344" y="3866">一次性付清，即：(￥ )(大写) 陆仟捌佰元整；</tspan></text></g>
<g id="n6-8"><line class="u" x1="643" y1="4302" x2="721" y2="4302"/><text class="t" x="653" y="4292">五、其它：</text></g>
<g id="n6-y1"><line class="u" x1="362" y1="3963" x2="622" y2="3963"/><text class="t"><tspan x="369" y="3920">1、如因原消防系统运行不正常，乙方仅负责</tspan><tspan x="369" y="3936">消防系统检测与维修，其材料费用由甲方负责</tspan><tspan x="369" y="3952">提供或另计。</tspan></text></g>
<g id="n6-y2"><line class="u" x1="362" y1="4065" x2="622" y2="4065"/><text class="t"><tspan x="369" y="4007">2、甲方应向乙方提供消防工程的施工、竣工</tspan><tspan x="369" y="4023">图纸和验收合格证(复印件)，乙方应为甲方建</tspan><tspan x="369" y="4039">立保修档案及保修证，保修证双方签字认可一</tspan><tspan x="369" y="4055">式二份。</tspan></text></g>
<g id="n6-y3"><line class="u" x1="362" y1="4184" x2="622" y2="4184"/><text class="t"><tspan x="369" y="4110">3、乙方为甲方提供有关的消防技术指导、得</tspan><tspan x="369" y="4126">到紧急抢修通知5小时应到场。每月一次定期</tspan><tspan x="369" y="4142">的消防工程维修保养，保证消防系统的正常运</tspan><tspan x="369" y="4158">转；另甲方每年需要举行消防演习时，乙方应</tspan><tspan x="369" y="4174">及时安排人员到场及提供技术指导。</tspan></text></g>
<g id="n6-y4"><line class="u" x1="362" y1="4271" x2="622" y2="4271"/><text class="t"><tspan x="369" y="4229">4、在维保、维修消防系统如正常损坏需更换</tspan><tspan x="369" y="4245">设备部件，甲方支付材料费，如人为损坏及变</tspan><tspan x="369" y="4261">动，甲方则需支付材料费及人工费。</tspan></text></g>
<g id="n6-y5"><line class="u" x1="362" y1="4357" x2="622" y2="4357"/><text class="t"><tspan x="369" y="4317">5、合同签订后双方对消防工程进程交接，凡</tspan><tspan x="369" y="4332">与消防规范严重冲突必须进行改造的，其费用</tspan><tspan x="369" y="4348">应由甲方负责。</tspan></text></g>
<g id="n6-y6"><line class="u" x1="362" y1="4428" x2="622" y2="4428"/><text class="t"><tspan x="369" y="4403">6、乙方在消防保养合同期间，若消防部门检</tspan><tspan x="369" y="4419">查时，乙方应给予必要技术与服务支持。</tspan></text></g>
<g id="n6-y7"><line class="u" x1="362" y1="4516" x2="622" y2="4516"/><text class="t"><tspan x="369" y="4474">7、本合同有效期壹年，20xx年6月1日至20</tspan><tspan x="369" y="4490">xx年5月31日至，期满时双方无异此合同则顺</tspan><tspan x="369" y="4506">延。如有未尽之处，双方协商解决。</tspan></text></g>
<g id="n6-y8"><line class="u" x1="362" y1="4641" x2="622" y2="4641"/><text class="t"><tspan x="369" y="4615">8、本合同一式二份，甲、乙双方各执一份，</tspan><tspan x="369" y="4632">签字生效后具有同等法律效力。</tspan></text></g>
<g id="n6-z1"><line class="u" x1="78" y1="4570" x2="339" y2="4570"/><text class="t" x="93" y="4560">甲方(公章)：________乙方(公章)：________</text></g>
<g id="n6-z2"><line class="u" x1="78" y1="4641" x2="339" y2="4641"/><text class="t"><tspan x="85" y="4615">法定代表人(签字)：________法定代表人(签</tspan><tspan x="85" y="4632">字)：________</tspan></text></g>
<g id="n6-z3"><line class="u" x1="78" y1="4712" x2="339" y2="4712"/><text class="t"><tspan x="85" y="4687">________年___月___日________年___月___</tspan><tspan x="85" y="4703">_日</tspan></text></g>
</g>
</svg>
